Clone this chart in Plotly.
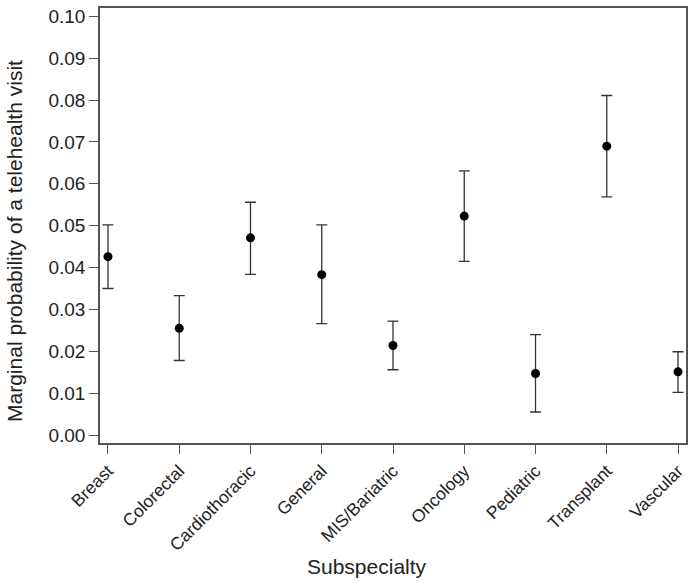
import plotly.graph_objects as go

categories = ["Breast", "Colorectal", "Cardiothoracic", "General", "MIS/Bariatric",
              "Oncology", "Pediatric", "Transplant", "Vascular"]
estimate = [0.0426, 0.0255, 0.0471, 0.0383, 0.0214, 0.0523, 0.0147, 0.0690, 0.0151]
upper = [0.0502, 0.0333, 0.0556, 0.0502, 0.0272, 0.0631, 0.0240, 0.0811, 0.0199]
lower = [0.0350, 0.0178, 0.0384, 0.0266, 0.0156, 0.0415, 0.0055, 0.0569, 0.0102]
y_ticks = [0.00, 0.01, 0.02, 0.03, 0.04, 0.05, 0.06, 0.07, 0.08, 0.09, 0.10]

err_plus = [u - e for u, e in zip(upper, estimate)]
err_minus = [e - l for e, l in zip(estimate, lower)]

FONT = "Liberation Sans, Arial, sans-serif"
AX = "#555555"

fig = go.Figure()
fig.add_trace(go.Scatter(
    x=list(range(len(categories))), y=estimate, mode="markers",
    marker=dict(color="black", size=9),
    error_y=dict(type="data", array=err_plus, arrayminus=err_minus,
                 color="#333333", thickness=1.3, width=5.5),
    showlegend=False,
))

fig.update_layout(
    width=694, height=585,
    margin=dict(l=100, r=8, t=6, b=142),
    paper_bgcolor="white", plot_bgcolor="white",
    font=dict(family=FONT, color="#222222"),
    xaxis=dict(
        range=[-0.112, 8.112], tickmode="array",
        tickvals=list(range(len(categories))), ticktext=categories,
        tickangle=-45, ticks="outside", ticklen=9, tickwidth=1.3, tickcolor=AX,
        tickfont=dict(size=17.5, family=FONT, color="#222222"),
        showline=True, linecolor=AX, linewidth=1.5, mirror=True,
        showgrid=False, zeroline=False,
    ),
    yaxis=dict(
        range=[-0.0019, 0.102], tickmode="array", tickvals=y_ticks,
        ticktext=[f"{v:.2f}" for v in y_ticks],
        ticks="outside", ticklen=9, tickwidth=1.3, tickcolor=AX,
        tickfont=dict(size=19, family=FONT, color="#222222"),
        showline=True, linecolor=AX, linewidth=1.5, mirror=True,
        showgrid=False, zeroline=False,
    ),
    annotations=[
        dict(text="Subspecialty", xref="paper", yref="paper",
             x=0.4556, y=-0.2838, xanchor="center", yanchor="middle",
             showarrow=False, font=dict(size=21, family=FONT, color="#222222")),
        dict(text="Marginal probability of a telehealth visit", xref="paper", yref="paper",
             x=-0.145, y=0.4645, xanchor="center", yanchor="middle", textangle=-90,
             showarrow=False, font=dict(size=21, family=FONT, color="#222222")),
    ],
)

fig.write_html("out.html", config={"displayModeBar": False},
               post_script="document.body.style.margin='0';document.body.style.overflow='hidden';")
